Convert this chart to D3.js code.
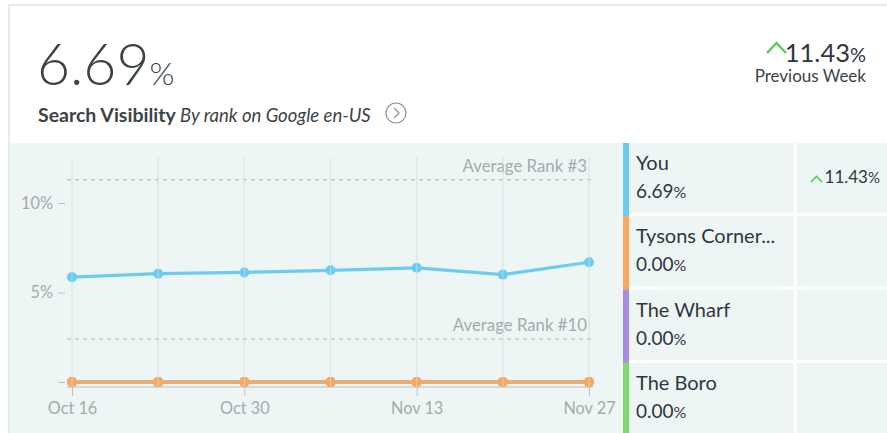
<!DOCTYPE html>
<html>
<head>
<meta charset="utf-8">
<script src="https://cdn.jsdelivr.net/npm/d3@7"></script>
<style>
  html, body { margin: 0; padding: 0; background: #fff; }
  body { width: 887px; height: 433px; overflow: hidden; font-family: Lato, "Open Sans", sans-serif; }
  svg { display: block; }
  .axis text { font-family: Lato, sans-serif; font-size: 16.3px; fill: #a3abab; }
  .axis line { stroke: #b9c2c2; }
</style>
</head>
<body>
<svg id="chart" width="887" height="433"></svg>
<script>
// weekly dates and visibility (%) per competitor
const weeks = ['2019-10-16', '2019-10-23', '2019-10-30', '2019-11-06', '2019-11-13', '2019-11-20', '2019-11-27'];
const seriesNames = ['You', 'Tysons Corner...', 'The Wharf', 'The Boro'];
const youValues = [5.86, 6.05, 6.12, 6.24, 6.38, 6.00, 6.69];
const tysonsValues = [0, 0, 0, 0, 0, 0, 0];
const wharfValues = [0, 0, 0, 0, 0, 0, 0];
const boroValues = [0, 0, 0, 0, 0, 0, 0];
const changeValues = [11.43, null, null, null];
const yTicks = [0, 5, 10];
const xTickWeeks = ['2019-10-16', '2019-10-30', '2019-11-13', '2019-11-27'];
const avgRankLabels = ['Average Rank #3', 'Average Rank #10'];
const avgRankValues = [11.3, 2.4];

const colors = ['#6dcbf0', '#f9a85c', '#a78de0', '#82d86c'];
const green = '#5cc95a';
const parse = d3.timeParse('%Y-%m-%d');
const allSeries = [youValues, tysonsValues, wharfValues, boroValues];

const svg = d3.select('#chart');

// card frame
svg.append('rect').attr('x', 8).attr('y', 4).attr('width', 900).attr('height', 2).attr('fill', '#e4ebeb');
svg.append('rect').attr('x', 8).attr('y', 4).attr('width', 2).attr('height', 440).attr('fill', '#e4ebeb');
svg.append('rect').attr('x', 10).attr('y', 143).attr('width', 890).attr('height', 300).attr('fill', '#eef6f5');

// header
const big = svg.append('text').attr('x', 37).attr('y', 85)
  .style('font-size', '57px').style('font-weight', 300).attr('fill', '#3b4347');
big.append('tspan').text(d3.format('.2f')(youValues[youValues.length - 1]));
big.append('tspan').style('font-size', '32px').text('%');

const sub = svg.append('text').attr('x', 38).attr('y', 122).attr('fill', '#3b4347');
sub.append('tspan').style('font-size', '19.5px').style('font-weight', 700).text('Search Visibility ');
sub.append('tspan').style('font-size', '18.5px').style('font-style', 'italic').text('By rank on Google en-US');

svg.append('circle').attr('cx', 396).attr('cy', 113).attr('r', 10)
  .attr('fill', 'none').attr('stroke', '#8a9294').attr('stroke-width', 1.2);
svg.append('path').attr('d', 'M394,108 L399,113 L394,118')
  .attr('fill', 'none').attr('stroke', '#8a9294').attr('stroke-width', 1.2);

// header change
const hc = svg.append('text').attr('x', 866).attr('y', 62).attr('text-anchor', 'end').attr('fill', '#2f3640');
hc.append('tspan').style('font-size', '25.5px').text(d3.format('.2f')(changeValues[0]));
hc.append('tspan').style('font-size', '20px').text('%');
svg.append('path').attr('d', 'M767,53 L776.5,43 L786,53')
  .attr('fill', 'none').attr('stroke', green).attr('stroke-width', 2.5);
svg.append('text').attr('x', 866).attr('y', 82).attr('text-anchor', 'end')
  .style('font-size', '17px').attr('fill', '#3b4347').text('Previous Week');

// scales
const x = d3.scaleTime()
  .domain(d3.extent(weeks, parse))
  .range([72, 589]);
const y = d3.scaleLinear()
  .domain([0, 10])
  .range([382, 203]);

const g = svg.append('g');

// vertical grid
g.selectAll('.grid').data(weeks).join('line')
  .attr('x1', d => x(parse(d))).attr('x2', d => x(parse(d)))
  .attr('y1', 157).attr('y2', 387)
  .attr('stroke', '#d9e1e1').attr('stroke-width', 1.2);

// y-axis
const yAxis = d3.axisLeft(y).tickValues(yTicks).tickSize(8).tickPadding(5)
  .tickFormat(d => d === 0 ? '' : d + '%');
g.append('g').attr('class', 'axis').attr('transform', 'translate(66,0)')
  .call(yAxis)
  .call(a => a.select('.domain').remove())
  .call(a => a.selectAll('line').attr('x2', -8).attr('x1', -1));

// x-axis
const xAxis = d3.axisBottom(x).tickValues(xTickWeeks.map(parse)).tickSize(9).tickPadding(6)
  .tickFormat(d3.timeFormat('%b %-d'));
g.append('g').attr('class', 'axis').attr('transform', 'translate(0,387)')
  .call(xAxis)
  .call(a => a.select('.domain').attr('d', 'M67,0H593').attr('stroke', '#c7d0d0').attr('stroke-width', 1.5));

// average rank reference lines
avgRankValues.forEach((v, i) => {
  g.append('line').attr('x1', 67).attr('x2', 593).attr('y1', y(v)).attr('y2', y(v))
    .attr('stroke', '#a9b1b1').attr('stroke-dasharray', '4,4').attr('stroke-width', 1);
  g.append('text').attr('x', 587).attr('y', y(v) - 8).attr('text-anchor', 'end')
    .style('font-size', '16.8px').attr('fill', '#a3abab').text(avgRankLabels[i]);
});

// series, drawn in reverse so "You" and Tysons land on top
const line = d3.line().x((d, i) => x(parse(weeks[i]))).y(d => y(d));
allSeries.map((vals, k) => ({vals, k})).reverse().forEach(({vals, k}) => {
  g.append('path').datum(vals).attr('d', line)
    .attr('fill', 'none').attr('stroke', colors[k]).attr('stroke-width', 3.2);
  g.selectAll(null).data(vals).join('circle')
    .attr('cx', (d, i) => x(parse(weeks[i]))).attr('cy', d => y(d)).attr('r', 5)
    .attr('fill', colors[k]);
});

// faint grid showing through the dots
g.selectAll('.grid2').data(weeks).join('line')
  .attr('x1', d => x(parse(d))).attr('x2', d => x(parse(d)))
  .attr('y1', 157).attr('y2', 387)
  .attr('stroke', '#e8f0f0').attr('stroke-width', 1).attr('opacity', 0.5);

// legend table
const rowH = 73.3, top0 = 143;
const rows = svg.selectAll('.row').data(seriesNames).join('g')
  .attr('transform', (d, i) => `translate(0,${top0 + i * rowH})`);
rows.append('rect').attr('x', 623).attr('y', 0).attr('width', 6).attr('height', rowH + 0.5)
  .attr('fill', (d, i) => colors[i]);
rows.append('rect').attr('x', 794).attr('y', 0).attr('width', 3).attr('height', rowH).attr('fill', '#fff');
rows.filter((d, i) => i > 0).append('rect').attr('x', 629).attr('y', -3).attr('width', 260).attr('height', 3).attr('fill', '#fff');
rows.append('text').attr('x', 636).attr('y', 27)
  .style('font-size', '20px').attr('fill', '#2f3640').text(d => d);
const val = rows.append('text').attr('x', 636).attr('y', 55).attr('fill', '#2f3640');
val.append('tspan').style('font-size', '19px').text((d, i) => d3.format('.2f')(allSeries[i][allSeries[i].length - 1]));
val.append('tspan').style('font-size', '16px').text('%');

rows.filter((d, i) => changeValues[i] != null).each(function(d, i) {
  const r = d3.select(this);
  const t = r.append('text').attr('x', 880).attr('y', 40).attr('text-anchor', 'end').attr('fill', '#2f3640');
  t.append('tspan').style('font-size', '17px').text(d3.format('.2f')(changeValues[seriesNames.indexOf(d)]));
  t.append('tspan').style('font-size', '15px').text('%');
  r.append('path').attr('d', 'M811,39 L816.5,33.5 L822,39')
    .attr('fill', 'none').attr('stroke', green).attr('stroke-width', 1.6);
});
</script>
</body>
</html>
